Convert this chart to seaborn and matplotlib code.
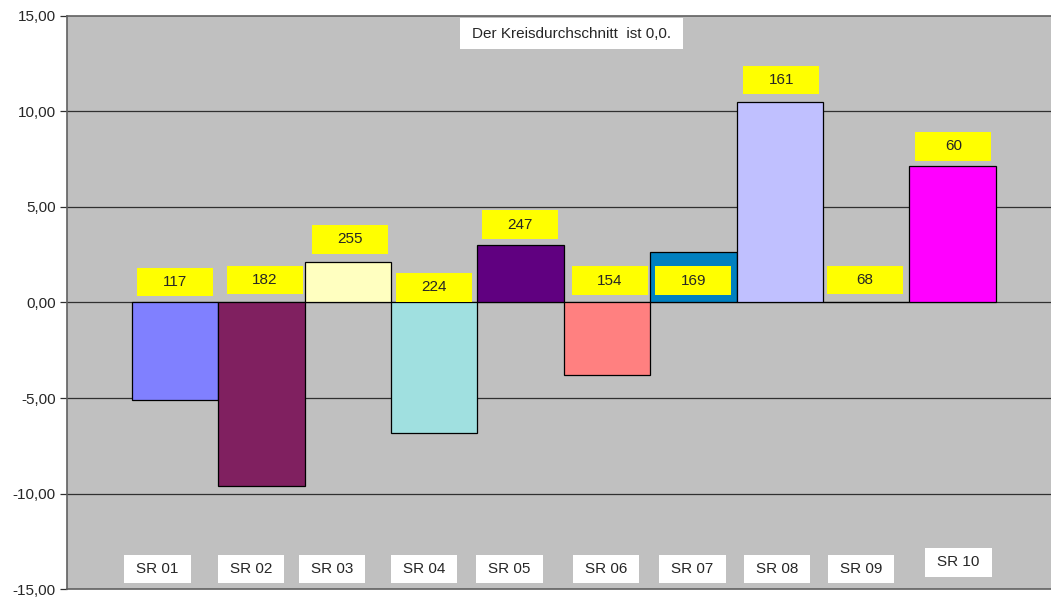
import numpy as np
import pandas as pd
import matplotlib
matplotlib.use("Agg")
import matplotlib.pyplot as plt
from matplotlib.patches import Rectangle
import seaborn as sns

# ---------------------------------------------------------------------------
# Data
# ---------------------------------------------------------------------------

regions = ["SR 01", "SR 02", "SR 03", "SR 04", "SR 05",
           "SR 06", "SR 07", "SR 08", "SR 09", "SR 10"]
deviation = [-5.10, -9.60, 2.10, -6.85, 3.00, -3.80, 2.65, 10.50, 0.05, 7.15]
counts = [117, 182, 255, 224, 247, 154, 169, 161, 68, 60]

bar_colors = ["#8080FF", "#802060", "#FFFFC0", "#A0E0E0", "#600080",
              "#FF8080", "#0080C0", "#C0C0FF", "#000080", "#FF00FF"]

note_text = "Der Kreisdurchschnitt  ist 0,0."

# label placement (data units)
count_label_y = [1.07, 1.18, 3.30, 0.79, 4.08, 1.15, 1.15, 11.65, 1.18, 8.17]
count_label_dx = [0.0, 0.04, 0.03, 0.0, -0.01, 0.03, 0.0, 0.02, -0.01, 0.01]
region_label_dx = [-0.20, -0.12, -0.18, -0.12, -0.13, -0.01, -0.01, -0.03, -0.06, 0.07]
region_label_y = [-13.95] * 9 + [-13.6]

# ---------------------------------------------------------------------------
# Plot
# ---------------------------------------------------------------------------

def boxed_text(ax, x, y, w, h, text, facecolor, fontsize=11):
    """Draws a borderless filled box of fixed size with centred text."""
    ax.add_patch(Rectangle((x - w / 2, y - h / 2), w, h, facecolor=facecolor,
                           edgecolor="none", zorder=4))
    ax.text(x, y, text, ha="center", va="center", fontsize=fontsize, zorder=5)


sns.set_style("white")
plt.rcParams["font.family"] = ["Liberation Sans", "DejaVu Sans"]

df = pd.DataFrame({"region": regions, "deviation": deviation})

fig = plt.figure(figsize=(10.51, 5.97), dpi=100)
ax = fig.add_axes([0.0637, 0.0134, 0.9363, 0.9598])
ax.set_facecolor("#C0C0C0")

ax.set_ylim(-15, 15)
ax.set_yticks(np.arange(-15, 16, 5))
for y in np.arange(-10, 15, 5):
    ax.axhline(y, color="#303030", linewidth=0.9, zorder=0)

sns.barplot(data=df, x="region", y="deviation", hue="region",
            palette=bar_colors, saturation=1, width=1.0, edgecolor="black",
            linewidth=0.9, legend=False, ax=ax, zorder=2)

ax.set_xlim(-1.25, 10.14)
ax.set_xticks([])
ax.set_xlabel("")
ax.set_ylabel("")
ax.set_yticklabels([f"{t:.2f}".replace(".", ",") for t in ax.get_yticks()],
                   fontsize=11)
ax.tick_params(axis="y", direction="out", length=5, width=0.9,
               color="#303030", pad=3, left=True)

for side in ["left", "top", "bottom"]:
    ax.spines[side].set_color("#606060")
    ax.spines[side].set_linewidth(1.2)
ax.spines["right"].set_visible(False)

# yellow count labels
for i, n in enumerate(counts):
    boxed_text(ax, i + count_label_dx[i], count_label_y[i], 0.88, 1.48,
               str(n), "#FFFF00")

# white category labels at the bottom
for i, name in enumerate(regions):
    boxed_text(ax, i + region_label_dx[i], region_label_y[i], 0.77, 1.5,
               name, "white")

boxed_text(ax, 4.59, 14.06, 2.58, 1.62, note_text, "white")

fig.savefig("out.png", dpi=100, facecolor="white")
